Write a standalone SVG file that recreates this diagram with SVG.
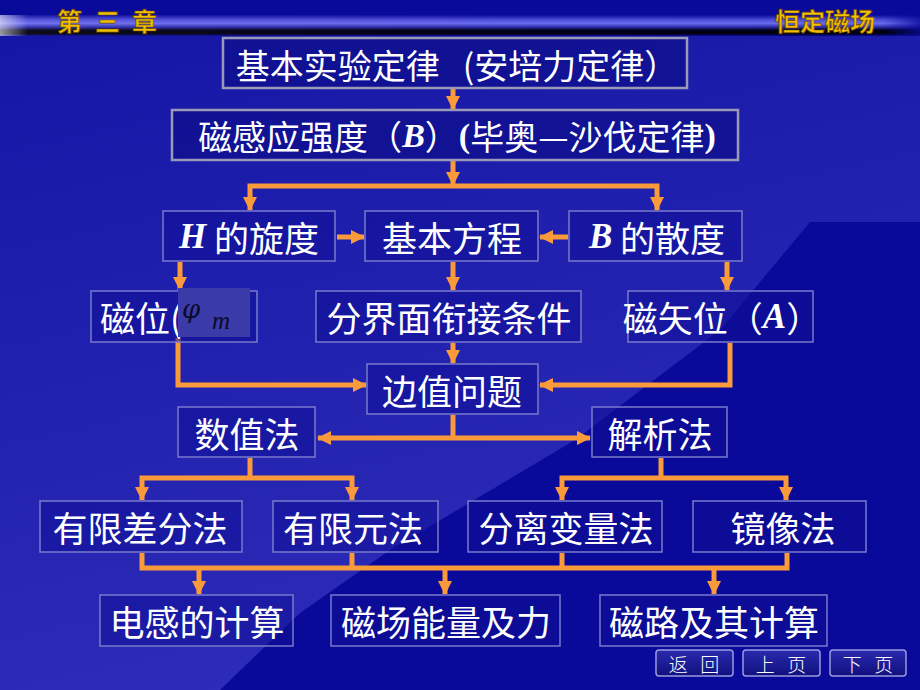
<svg xmlns="http://www.w3.org/2000/svg" width="920" height="690" viewBox="0 0 920 690">
<defs>
<linearGradient id="lightBg" x1="0" y1="0" x2="0.3" y2="1">
<stop offset="0" stop-color="#1616a6"/>
<stop offset="1" stop-color="#2c2cb8"/>
</linearGradient>
<linearGradient id="barV" x1="0" y1="0" x2="0" y2="1">
<stop offset="0" stop-color="#0a0a9a"/>
<stop offset="0.22" stop-color="#4a4ad8"/>
<stop offset="0.4" stop-color="#6a6aee"/>
<stop offset="0.58" stop-color="#2a2aa8"/>
<stop offset="0.72" stop-color="#000018"/>
<stop offset="0.88" stop-color="#00000c"/>
<stop offset="1" stop-color="#0a0a9a"/>
</linearGradient>
<linearGradient id="barH" x1="0" y1="0" x2="1" y2="0">
<stop offset="0" stop-color="#ffffff" stop-opacity="0.6"/>
<stop offset="0.03" stop-color="#ffffff" stop-opacity="0.05"/>
<stop offset="0.96" stop-color="#0a0a9a" stop-opacity="0"/>
<stop offset="1" stop-color="#0a0a9a" stop-opacity="0.8"/>
</linearGradient>
<linearGradient id="btn" x1="0" y1="0" x2="0" y2="1">
<stop offset="0" stop-color="#2a2ab0"/>
<stop offset="1" stop-color="#10107e"/>
</linearGradient>
<marker id="ah" viewBox="0 0 14 14" refX="13" refY="7" markerWidth="14" markerHeight="14" markerUnits="userSpaceOnUse" orient="auto-start-reverse">
<path d="M0,0 L14,7 L0,14 Z" fill="#fa9a3a"/>
</marker>
</defs>
<style>
.box{fill:#0e0e96;fill-opacity:0.55;stroke:#7a7acc;stroke-width:1.5}
.bigbox{fill:#0e0e8c;fill-opacity:0.7;stroke:#9a9ab8;stroke-width:2.5}
.t{font-family:"Noto Sans CJK SC","Noto Sans CJK TC",sans-serif;fill:#ffffff;font-size:35px}
.tb{font-size:34px}
.it{font-family:"Liberation Serif",serif;font-style:italic;font-weight:bold}
.pr{font-family:"Liberation Serif",serif;font-weight:bold}
.c{fill:none;stroke:#fa9a3a;stroke-width:5}
.hd{font-family:"Noto Sans CJK SC",sans-serif;font-size:25px;fill:#f2c000;stroke:#6a4400;stroke-width:0.7;font-weight:bold}
.nav{fill:url(#btn);stroke:#9a9ae0;stroke-width:1.5}
.nt{font-family:"Noto Sans CJK SC",sans-serif;font-size:19px;fill:#ffffff;font-weight:300}
</style>
<!-- background -->
<rect x="0" y="0" width="920" height="690" fill="#09099a"/>
<polygon points="0,34 920,34 920,222 810,222 720,330 575,440 390,550 300,613 220,690 0,690" fill="url(#lightBg)"/>
<rect x="0" y="0" width="920" height="16" fill="#0a0a9a"/>
<rect x="0" y="15" width="920" height="21" fill="url(#barV)"/>
<rect x="0" y="15" width="920" height="21" fill="url(#barH)"/>
<g id="header">
<text class="hd" x="57" y="31">第</text>
<text class="hd" x="95" y="31">三</text>
<text class="hd" x="132" y="31">章</text>
<text class="hd" x="775" y="31">恒定磁场</text>
</g>
<g id="connectors">
<path class="c" d="M453,89 V109" marker-end="url(#ah)"/>
<path class="c" d="M453,161 V185" marker-end="url(#ah)"/>
<path class="c" d="M453,186 H250 V210" marker-end="url(#ah)"/>
<path class="c" d="M453,186 H657 V210" marker-end="url(#ah)"/>
<path class="c" d="M337,237 H364" marker-end="url(#ah)"/>
<path class="c" d="M568,237 H540" marker-end="url(#ah)"/>
<path class="c" d="M180,262 V290" marker-end="url(#ah)"/>
<path class="c" d="M453,262 V290" marker-end="url(#ah)"/>
<path class="c" d="M727,262 V290" marker-end="url(#ah)"/>
<path class="c" d="M453,343 V363" marker-end="url(#ah)"/>
<path class="c" d="M178,338 V385 H366" marker-end="url(#ah)"/>
<path class="c" d="M730,343 V385 H540" marker-end="url(#ah)"/>
<path class="c" d="M453,415 V438"/>
<path class="c" d="M318,438 H590" marker-start="url(#ah)" marker-end="url(#ah)"/>
<path class="c" d="M250,458 V478"/>
<path class="c" d="M250,478 H142 V500" marker-end="url(#ah)"/>
<path class="c" d="M250,478 H352 V500" marker-end="url(#ah)"/>
<path class="c" d="M661,458 V478"/>
<path class="c" d="M661,478 H562 V500" marker-end="url(#ah)"/>
<path class="c" d="M661,478 H786 V500" marker-end="url(#ah)"/>
<path class="c" d="M142,553 V568 H787 V553"/>
<path class="c" d="M352,553 V568"/>
<path class="c" d="M562,553 V568"/>
<path class="c" d="M199,568 V594" marker-end="url(#ah)"/>
<path class="c" d="M445,568 V594" marker-end="url(#ah)"/>
<path class="c" d="M714,568 V594" marker-end="url(#ah)"/>
</g>
<g id="n1">
<rect class="bigbox" x="223" y="38" width="464" height="50"/>
<text class="t tb" x="457" y="64" text-anchor="middle" dominant-baseline="central">基本实验定律&#160;&#160;&#160;(安培力定律）</text>
</g>
<g id="n2">
<rect class="bigbox" x="172" y="110" width="566" height="50"/>
<text class="t tb" x="457" y="135" text-anchor="middle" dominant-baseline="central">磁感应强度（<tspan class="it">B</tspan>）<tspan class="pr">(</tspan>毕奥—沙伐定律<tspan class="pr">)</tspan></text>
</g>
<g id="n3">
<rect class="box" x="163" y="211" width="172" height="50"/>
<text class="t" x="249" y="236" text-anchor="middle" dominant-baseline="central"><tspan class="it">H</tspan> 的旋度</text>
</g>
<g id="n4">
<rect class="box" x="365" y="211" width="173" height="50"/>
<text class="t" x="452" y="236" text-anchor="middle" dominant-baseline="central">基本方程</text>
</g>
<g id="n5">
<rect class="box" x="569" y="211" width="173" height="50"/>
<text class="t" x="657" y="236" text-anchor="middle" dominant-baseline="central"><tspan class="it">B</tspan> 的散度</text>
</g>
<g id="n6">
<rect class="box" x="91" y="291" width="166" height="51"/>
<text class="t" x="100" y="316" dominant-baseline="central">磁位(</text>
<rect x="178" y="288" width="72" height="49" fill="#3a3aa8"/>
<text x="182" y="318" font-family="DejaVu Serif,serif" font-style="italic" font-size="26" fill="#0a0a2a">φ</text>
<text x="212" y="329" font-family="Liberation Serif,serif" font-style="italic" font-size="25" fill="#0a0a2a">m</text>
</g>
<g id="n7">
<rect class="box" x="316" y="291" width="265" height="51"/>
<text class="t" x="449" y="316" text-anchor="middle" dominant-baseline="central">分界面衔接条件</text>
</g>
<g id="n8">
<rect class="box" x="628" y="291" width="185" height="51"/>
<text class="t" x="722" y="316" text-anchor="middle" dominant-baseline="central">磁矢位（<tspan class="it">A</tspan>）</text>
</g>
<g id="n9">
<rect class="box" x="367" y="364" width="171" height="50"/>
<text class="t" x="452" y="389" text-anchor="middle" dominant-baseline="central">边值问题</text>
</g>
<g id="n10">
<rect class="box" x="178" y="407" width="137" height="50"/>
<text class="t" x="247" y="432" text-anchor="middle" dominant-baseline="central">数值法</text>
</g>
<g id="n11">
<rect class="box" x="592" y="407" width="135" height="50"/>
<text class="t" x="660" y="432" text-anchor="middle" dominant-baseline="central">解析法</text>
</g>
<g id="n12">
<rect class="box" x="40" y="501" width="202" height="51"/>
<text class="t" x="140" y="526" text-anchor="middle" dominant-baseline="central">有限差分法</text>
</g>
<g id="n13">
<rect class="box" x="273" y="501" width="165" height="51"/>
<text class="t" x="353" y="526" text-anchor="middle" dominant-baseline="central">有限元法</text>
</g>
<g id="n14">
<rect class="box" x="468" y="501" width="194" height="51"/>
<text class="t" x="566" y="526" text-anchor="middle" dominant-baseline="central">分离变量法</text>
</g>
<g id="n15">
<rect class="box" x="693" y="501" width="173" height="51"/>
<text class="t" x="783" y="526" text-anchor="middle" dominant-baseline="central">镜像法</text>
</g>
<g id="n16">
<rect class="box" x="100" y="595" width="193" height="51"/>
<text class="t" x="197" y="620" text-anchor="middle" dominant-baseline="central">电感的计算</text>
</g>
<g id="n17">
<rect class="box" x="331" y="595" width="229" height="51"/>
<text class="t" x="446" y="620" text-anchor="middle" dominant-baseline="central">磁场能量及力</text>
</g>
<g id="n18">
<rect class="box" x="600" y="595" width="227" height="51"/>
<text class="t" x="714" y="620" text-anchor="middle" dominant-baseline="central">磁路及其计算</text>
</g>
<g id="nav">
<rect class="nav" x="656" y="650" width="77" height="26" rx="3"/>
<text class="nt" x="694" y="663" text-anchor="middle" dominant-baseline="central">返&#160;&#160;&#160;回</text>
<rect class="nav" x="743" y="650" width="77" height="26" rx="3"/>
<text class="nt" x="781" y="663" text-anchor="middle" dominant-baseline="central">上&#160;&#160;&#160;页</text>
<rect class="nav" x="830" y="650" width="76" height="26" rx="3"/>
<text class="nt" x="868" y="663" text-anchor="middle" dominant-baseline="central">下&#160;&#160;&#160;页</text>
</g>
</svg>
